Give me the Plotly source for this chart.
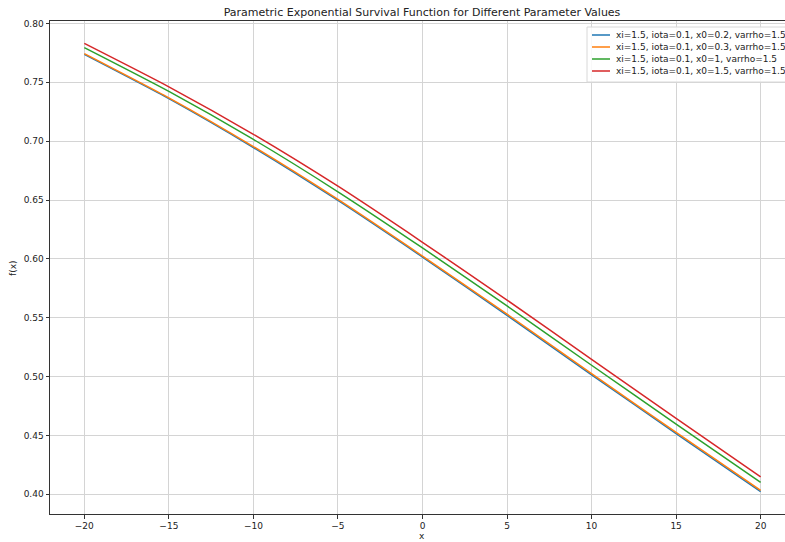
import plotly.graph_objects as go

# ---- data ----
x_vals = [-20, -15, -10, -5, 0, 5, 10, 15, 20]
y_x0_02 = [0.7737, 0.7361, 0.6946, 0.6496, 0.6015, 0.5520, 0.5015, 0.4515, 0.4022]
y_x0_03 = [0.7744, 0.7368, 0.6954, 0.6505, 0.6024, 0.5530, 0.5025, 0.4525, 0.4032]
y_x0_1 = [0.7795, 0.7423, 0.7015, 0.6570, 0.6093, 0.5600, 0.5096, 0.4595, 0.4100]
y_x0_15 = [0.7831, 0.7462, 0.7058, 0.6617, 0.6141, 0.5650, 0.5146, 0.4645, 0.4148]
series_names = [
    "xi=1.5, iota=0.1, x0=0.2, varrho=1.5",
    "xi=1.5, iota=0.1, x0=0.3, varrho=1.5",
    "xi=1.5, iota=0.1, x0=1, varrho=1.5",
    "xi=1.5, iota=0.1, x0=1.5, varrho=1.5",
]
x_ticks = [-20, -15, -10, -5, 0, 5, 10, 15, 20]
y_ticks = [0.40, 0.45, 0.50, 0.55, 0.60, 0.65, 0.70, 0.75, 0.80]

series_values = [y_x0_02, y_x0_03, y_x0_1, y_x0_15]
colors = ["#1f77b4", "#ff7f0e", "#2ca02c", "#d62728"]

# ---- layout geometry (pixels) ----
W, H = 785, 542
ML, MR, MT, MB = 50, 0, 21, 28
PW = W - ML - MR
PH = H - MT - MB


def px(x):
    return (x - ML) / PW


def py(y):
    return 1 - (y - MT) / PH


FONT = "DejaVu Sans, Liberation Sans, sans-serif"

fig = go.Figure()
for name, vals, col in zip(series_names, series_values, colors):
    fig.add_trace(go.Scatter(
        x=x_vals, y=vals, mode="lines", name=name,
        line=dict(color=col, width=1.5, shape="spline", smoothing=0.6),
        showlegend=False,
    ))

axis_common = dict(
    showgrid=True, gridcolor="#d4d4d4", gridwidth=1,
    zeroline=False, showline=True, linecolor="#333333", linewidth=1,
    ticks="outside", ticklen=3.5, tickwidth=1, tickcolor="#333333",
    tickfont=dict(family=FONT, size=9, color="#222222"),
)

fig.update_layout(
    width=W, height=H,
    margin=dict(l=ML, r=MR, t=MT, b=MB, pad=0),
    paper_bgcolor="white", plot_bgcolor="white",
    font=dict(family=FONT, size=9, color="#222222"),
    title=dict(
        text="Parametric Exponential Survival Function for Different Parameter Values",
        font=dict(family=FONT, size=11, color="#222222"),
        xref="paper", x=px(422), xanchor="center",
        yref="container", y=1 - 12 / H, yanchor="middle",
    ),
    xaxis=dict(range=[-22.03, 21.44], tickvals=x_ticks, mirror=True, **axis_common),
    yaxis=dict(range=[0.3832, 0.8021], tickvals=y_ticks, tickformat=".2f", **axis_common),
    showlegend=False,
)

# axis labels
fig.add_annotation(text="x", xref="paper", yref="paper", x=px(422), y=py(536),
                   xanchor="center", yanchor="middle", showarrow=False,
                   font=dict(family=FONT, size=9, color="#222222"))
fig.add_annotation(text="f(x)", xref="paper", yref="paper", x=px(13), y=py(268),
                   xanchor="center", yanchor="middle", showarrow=False, textangle=-90,
                   font=dict(family=FONT, size=9, color="#222222"))

# legend box (matplotlib-style, upper right)
fig.add_shape(type="rect", xref="paper", yref="paper",
              x0=px(587), x1=px(800), y0=py(27), y1=py(82),
              line=dict(color="#d8d8d8", width=1), fillcolor="rgba(255,255,255,0.85)",
              layer="above")
rows = [35, 47, 59, 71]
for name, col, ry in zip(series_names, colors, rows):
    fig.add_shape(type="line", xref="paper", yref="paper",
                  x0=px(592), x1=px(610), y0=py(ry), y1=py(ry),
                  line=dict(color=col, width=1.5), layer="above")
    fig.add_annotation(text=name, xref="paper", yref="paper", x=px(614), y=py(ry),
                       xanchor="left", yanchor="middle", showarrow=False,
                       font=dict(family=FONT, size=9, color="#222222"))

fig.write_html("out.html", config={"displayModeBar": False},
               post_script="document.body.style.margin='0px';")
